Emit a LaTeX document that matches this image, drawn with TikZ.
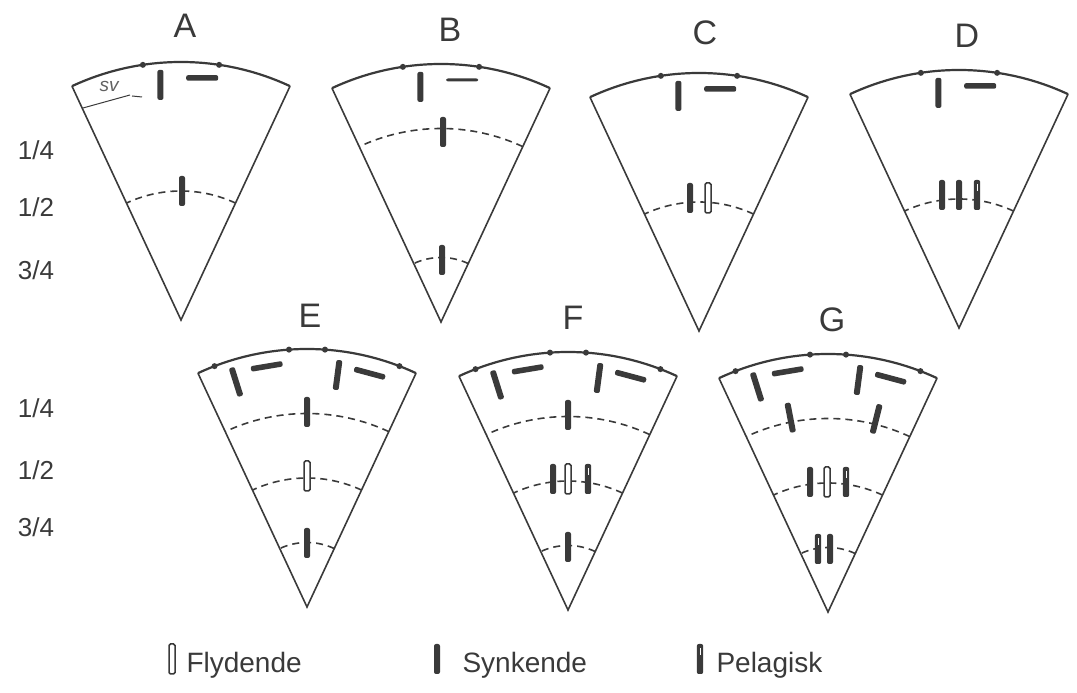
\documentclass[tikz,border=0pt]{standalone}
\usepackage{fontspec}
\setmainfont{Liberation Sans}
\definecolor{ink}{HTML}{3A3A3A}
\tikzset{
  rand/.style={draw=ink,line width=1.6pt},
  kant/.style={draw=ink,line width=2.2pt},
  dyb/.style={draw=ink,line width=1.6pt,dash pattern=on 7pt off 5pt},
  bokstav/.style={font=\fontsize{34}{36}\selectfont,text=ink,anchor=base},
  brok/.style={font=\fontsize{26}{28}\selectfont,text=ink},
  tegn/.style={font=\fontsize{28}{30}\selectfont,text=ink,anchor=base west},
  synk/.pic={\fill[ink,rounded corners=2pt] (-3,-15) rectangle (3,15);},
  tverr/.pic={\fill[ink,rounded corners=2pt] (-16,-2.8) rectangle (16,2.8);},
  flyd/.pic={\draw[ink,fill=white,line width=1.5pt,rounded corners=1.5pt] (-3,-15) rectangle (3,15);},
  pelag/.pic={\fill[ink,rounded corners=2pt] (-3.2,-15) rectangle (3.2,15); \draw[white,line width=1.2pt] (0.3,4) -- (0.3,11);},
}
\begin{document}
\begin{tikzpicture}[x=1pt,y=1pt]
\useasboundingbox (0,0) rectangle (1077,693);
% toppraden: A B C D
\foreach \x/\y/\t in {181/373/1,441/371/0.55,699/362/1,959/365/1}{
\begin{scope}[shift={(\x,\y)}]
\draw[rand] (115:258) -- (0,0) -- (65:258);
\draw[kant] (115:258) arc[start angle=115,end angle=65,radius=258];
\foreach \a in {81.5,98.5} \fill[ink] (\a:258) circle (3);
\pic at (95:236) {synk};
\pic[yscale=\t] at (85:243) {tverr};
\end{scope}}
% nederste rad: E F G
\foreach \x/\y in {307/86,568/83,828/81}{
\begin{scope}[shift={(\x,\y)}]
\draw[rand] (115:258) -- (0,0) -- (65:258);
\draw[kant] (115:258) arc[start angle=115,end angle=65,radius=258];
\foreach \a in {69,86,94,111} \fill[ink] (\a:258) circle (3);
\foreach \r in {193.5,129,64.5} \draw[dyb] (65:\r) arc[start angle=65,end angle=115,radius=\r];
\pic[rotate=17.5] at (107.5:236) {synk};
\pic[rotate=9.5] at (99.5:244) {tverr};
\pic[rotate=-7.5] at (82.5:234) {synk};
\pic[rotate=-15] at (75:242) {tverr};
\end{scope}}
% A
\begin{scope}[shift={(181,373)}]
\draw[dyb] (65:129) arc[start angle=65,end angle=115,radius=129];
\pic at (1,129) {synk};
\draw[ink,line width=1pt] (-98,212) -- (-51,225) (-49,224) -- (-39,223);
\node[font=\fontsize{19}{19}\selectfont\itshape,text=ink!80] (sv) at (-72,233) {sv};
\end{scope}
% B
\begin{scope}[shift={(441,371)}]
\foreach \r in {193.5,64.5} \draw[dyb] (65:\r) arc[start angle=65,end angle=115,radius=\r];
\pic at (2,190) {synk};
\pic at (1,62) {synk};
\end{scope}
% C
\begin{scope}[shift={(699,362)}]
\draw[dyb] (65:129) arc[start angle=65,end angle=115,radius=129];
\pic at (-9,133) {synk};
\pic at (9,133) {flyd};
\end{scope}
% D
\begin{scope}[shift={(959,365)}]
\draw[dyb] (65:129) arc[start angle=65,end angle=115,radius=129];
\foreach \dx in {-17,0} \pic at (\dx,133) {synk};
\pic at (18,133) {pelag};
\end{scope}
% E
\begin{scope}[shift={(307,86)}]
\pic at (0,195) {synk};
\pic at (0,131) {flyd};
\pic at (0,64) {synk};
\end{scope}
% F
\begin{scope}[shift={(568,83)}]
\pic at (0,195) {synk};
\foreach \dx/\m in {-15/synk,0/flyd,20/pelag} \pic at (\dx,131) {\m};
\pic at (0,63) {synk};
\end{scope}
% G
\begin{scope}[shift={(828,81)}]
\pic[rotate=11] at (101:198) {synk};
\pic[rotate=-14] at (76:199) {synk};
\foreach \dx/\m in {-18/synk,-1/flyd,18/pelag} \pic at (\dx,130) {\m};
\pic at (-10,63) {pelag};
\pic at (2,63) {synk};
\end{scope}
% bokstaver
\foreach \n/\x/\y in {A/185/655,B/450/651,C/705/648,D/967/645,E/310/365,F/573/363,G/832/361}
  \node[bokstav] (lab\n) at (\x,\y) {\n};
% dybder
\foreach \f/\y/\k in {{1/4}/543/a,{1/2}/486/b,{3/4}/423/c,{1/4}/285/d,{1/2}/223/e,{3/4}/166/f}
  \node[brok] (dyb\k) at (36,\y) {\f};
% tegnforklaring
\pic at (172,34) {flyd};
\node[tegn] (fly) at (183,20) {Flydende};
\pic at (437,34) {synk};
\node[tegn] (syn) at (459,20) {Synkende};
\pic at (700,34) {pelag};
\node[tegn] (pel) at (713,20) {Pelagisk};
\end{tikzpicture}
\end{document}
